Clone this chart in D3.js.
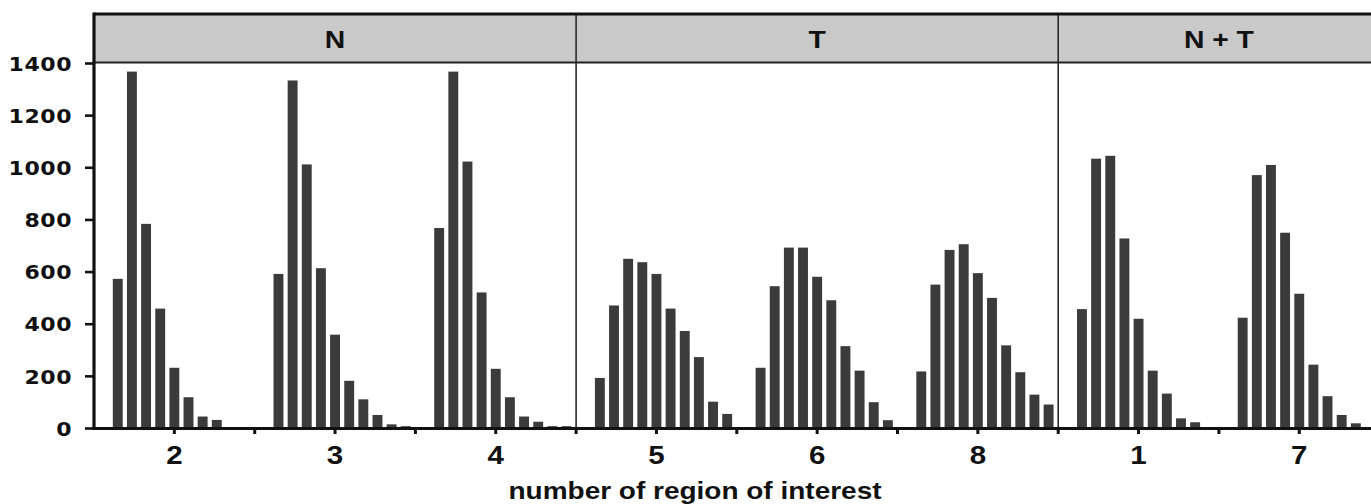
<!DOCTYPE html>
<html>
<head>
<meta charset="utf-8">
<script src="https://cdn.jsdelivr.net/npm/d3@7"></script>
<style>
  body { margin: 0; background: #fff; overflow: hidden; }
  svg { display: block; }
</style>
</head>
<body>
<div id="chart"></div>
<script>
// regions of interest, in drawing order
var groups = ['2', '3', '4', '5', '6', '8', '1', '7'];
var bins = d3.range(11);

// counts per bin (bin 0 is empty everywhere)
var counts = {
    '2': [0, 572, 1367, 783, 458, 231, 118, 44, 31, 0, 0],
    '3': [0, 591, 1333, 1011, 613, 358, 181, 110, 50, 14, 7],
    '4': [0, 767, 1367, 1022, 520, 227, 118, 44, 24, 7, 7],
    '5': [0, 192, 470, 649, 636, 591, 458, 372, 272, 101, 54],
    '6': [0, 231, 544, 692, 692, 580, 490, 314, 220, 99, 30],
    '8': [0, 217, 550, 683, 705, 594, 499, 317, 214, 128, 90],
    '1': [0, 456, 1033, 1044, 727, 419, 220, 132, 37, 22, 0],
    '7': [0, 423, 970, 1009, 749, 515, 243, 122, 50, 18, 0]
};

var panels = ['N', 'T', 'N + T'];
var panelGroups = [['2', '3', '4'], ['5', '6', '8'], ['1', '7']];

var yTicks = [0, 200, 400, 600, 800, 1000, 1200, 1400];
var xTitle = 'number of region of interest';

var width = 1371, height = 504;
var left = 94, groupW = 160.7;
var topY = 14, headerBottom = 63, baseY = 428;
var stretch = 1.18;

var svg = d3.select('#chart').append('svg')
    .attr('width', width)
    .attr('height', height);

var x = d3.scaleBand()
    .domain(groups)
    .range([left, left + groups.length * groupW]);

var xInner = d3.scaleBand()
    .domain(bins)
    .range([0, x.bandwidth()])
    .paddingInner(0.3)
    .paddingOuter(0.33);

var y = d3.scaleLinear()
    .domain([0, 1400])
    .range([baseY, headerBottom]);

// header strip
svg.append('rect')
    .attr('x', left)
    .attr('y', topY)
    .attr('width', width - left)
    .attr('height', headerBottom - topY)
    .attr('fill', '#c9c9c9');

// bars
var g = svg.append('g');
groups.forEach(function(k) {
    g.append('g')
        .attr('transform', 'translate(' + x(k) + ',0)')
        .selectAll('rect')
        .data(counts[k])
        .enter()
            .append('rect')
            .attr('x', function(d, i) { return xInner(i); })
            .attr('y', function(d) { return y(d); })
            .attr('width', xInner.bandwidth())
            .attr('height', function(d) { return baseY - y(d); })
            .attr('fill', '#3b3b3b');
});

// panel dividers
panelGroups.slice(1).forEach(function(pg) {
    svg.append('line')
        .attr('x1', x(pg[0])).attr('x2', x(pg[0]))
        .attr('y1', topY).attr('y2', baseY)
        .attr('stroke', '#2a2a2a')
        .attr('stroke-width', 1.6);
});

// header lines
svg.append('line')
    .attr('x1', left).attr('x2', width)
    .attr('y1', topY).attr('y2', topY)
    .attr('stroke', '#111').attr('stroke-width', 3.2);
svg.append('line')
    .attr('x1', left).attr('x2', width)
    .attr('y1', headerBottom - 0.5).attr('y2', headerBottom - 0.5)
    .attr('stroke', '#222').attr('stroke-width', 2);

// panel titles
panels.forEach(function(p, i) {
    var pg = panelGroups[i];
    var cx = (x(pg[0]) + x(pg[pg.length - 1]) + x.bandwidth()) / 2;
    svg.append('text')
        .attr('transform', 'translate(' + cx + ',' + 48 + ') scale(' + stretch + ',1)')
        .attr('text-anchor', 'middle')
        .attr('font-family', 'Liberation Sans, Arial, sans-serif')
        .attr('font-weight', 'bold')
        .attr('font-size', 24)
        .attr('fill', '#111')
        .text(p);
});

// y axis
var yAxis = svg.append('g')
    .attr('transform', 'translate(' + left + ',0)')
    .call(d3.axisLeft(y).tickValues(yTicks).tickFormat(d3.format('d'))
        .tickSize(9).tickPadding(14).tickSizeOuter(0));
yAxis.select('.domain').remove();
yAxis.selectAll('.tick line').attr('stroke', '#111').attr('stroke-width', 2.6);
yAxis.selectAll('.tick text')
    .attr('x', -22 / 1.1)
    .attr('dy', '0.36em')
    .attr('transform', 'scale(1.1,1)')
    .attr('font-family', 'DejaVu Sans, Verdana, sans-serif')
    .attr('font-weight', 'bold')
    .attr('font-size', 20)
    .attr('letter-spacing', 0.5)
    .attr('fill', '#111');
svg.append('line')
    .attr('x1', left).attr('x2', left)
    .attr('y1', topY - 1.5).attr('y2', baseY + 2)
    .attr('stroke', '#111').attr('stroke-width', 3.2);

// x axis
var xAxis = svg.append('g')
    .attr('transform', 'translate(0,' + baseY + ')')
    .call(d3.axisBottom(x).tickSize(6).tickPadding(12).tickSizeOuter(0));
xAxis.select('.domain').remove();
xAxis.selectAll('.tick line').attr('stroke', '#111').attr('stroke-width', 3);
xAxis.selectAll('.tick text')
    .attr('transform', 'scale(' + stretch + ',1)')
    .attr('font-family', 'Liberation Sans, Arial, sans-serif')
    .attr('font-weight', 'bold')
    .attr('font-size', 25)
    .attr('fill', '#111');
xAxis.selectAll('.bound')
    .data(groups.slice(1))
    .enter()
        .append('line')
        .attr('class', 'bound')
        .attr('x1', function(d) { return x(d); })
        .attr('x2', function(d) { return x(d); })
        .attr('y1', 0).attr('y2', 6)
        .attr('stroke', '#111').attr('stroke-width', 3);
svg.append('line')
    .attr('x1', left - 1.5).attr('x2', width)
    .attr('y1', baseY + 0.5).attr('y2', baseY + 0.5)
    .attr('stroke', '#111').attr('stroke-width', 3);

// axis title
svg.append('text')
    .attr('x', 695)
    .attr('y', 499)
    .attr('text-anchor', 'middle')
    .attr('font-family', 'Liberation Sans, Arial, sans-serif')
    .attr('font-weight', 'bold')
    .attr('font-size', 24)
    .attr('textLength', 373)
    .attr('lengthAdjust', 'spacingAndGlyphs')
    .attr('fill', '#111')
    .text(xTitle);
</script>
</body>
</html>
